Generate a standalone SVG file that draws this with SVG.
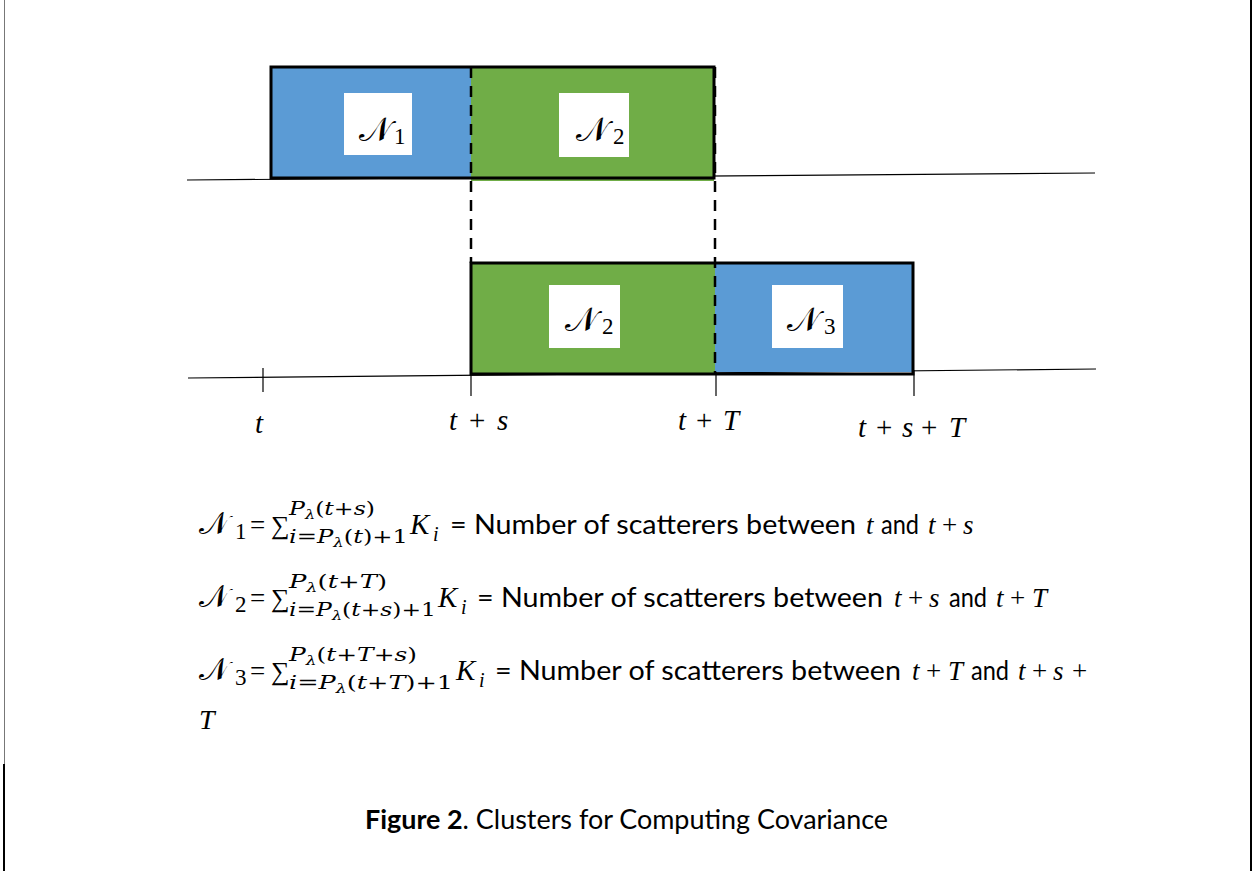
<svg xmlns="http://www.w3.org/2000/svg" width="1255" height="871" viewBox="0 0 1255 871">
<style>
.m{font-family:"Liberation Serif","DejaVu Serif",serif;font-style:italic;fill:#000}
.r{font-family:"Liberation Serif","DejaVu Serif",serif;font-style:normal;fill:#000}
.sm{font-family:"DejaVu Serif","Liberation Serif",serif;font-style:italic;fill:#000}
.sr{font-family:"DejaVu Serif","Liberation Serif",serif;font-style:normal}
.cal{font-family:"DejaVu Serif","DejaVu Sans","Noto Sans",serif;font-style:normal;fill:#000}
.p{font-family:Lato,"Liberation Sans",sans-serif;fill:#000}
.ax{stroke:#000;stroke-width:1.2;fill:none}
.tick{stroke:#000;stroke-width:1.2}
.dash{stroke:#000;stroke-width:2.5;stroke-dasharray:11,8;fill:none}
.bd{fill:none;stroke:#000;stroke-width:3}
.lbl{fill:#fff}
</style>
<rect x="0" y="0" width="1255" height="871" fill="#fff"/>
<line x1="4.5" y1="0" x2="4.5" y2="764" stroke="#777" stroke-width="1"/>
<line x1="4" y1="764" x2="4" y2="871" stroke="#000" stroke-width="2"/>
<line x1="1251" y1="0" x2="1251" y2="871" stroke="#000" stroke-width="2"/>

<g id="axes">
<line class="ax" x1="187" y1="180" x2="1095" y2="173"/>
<line class="ax" x1="188" y1="378" x2="1096" y2="369"/>
<line class="tick" x1="263" y1="368" x2="263" y2="392"/>
<line class="tick" x1="471" y1="374" x2="471" y2="396"/>
<line class="tick" x1="716" y1="372" x2="716" y2="396"/>
<line class="tick" x1="914" y1="370" x2="914" y2="396"/>
</g>

<g id="N1-top">
<rect x="271" y="67" width="200" height="111" fill="#5B9BD5"/>
<rect class="lbl" x="344" y="93" width="68" height="62"/>
<text class="cal" x="359" y="141" font-size="34">𝒩<tspan font-size="23" class="r" dy="3" dx="2">1</tspan></text>
</g>
<g id="N2-top">
<rect x="471" y="67" width="243" height="114" fill="#70AD47"/>
<rect class="lbl" x="559" y="93" width="70" height="64"/>
<text class="cal" x="576" y="141" font-size="34">𝒩<tspan font-size="23" class="r" dy="3" dx="4">2</tspan></text>
</g>
<path class="bd" d="M271,67 H714 V178 H271 Z"/>

<g id="N2-bottom">
<rect x="471" y="263" width="244" height="111" fill="#70AD47"/>
<rect class="lbl" x="549" y="285" width="71" height="63"/>
<text class="cal" x="565" y="331" font-size="34">𝒩<tspan font-size="23" class="r" dy="3" dx="4">2</tspan></text>
</g>
<g id="N3-bottom">
<rect x="715" y="263" width="198" height="109" fill="#5B9BD5"/>
<rect class="lbl" x="772" y="285" width="71" height="63"/>
<text class="cal" x="787" y="331" font-size="34">𝒩<tspan font-size="23" class="r" dy="3" dx="4">3</tspan></text>
</g>
<path class="bd" d="M471,263 H913 V374 H471 Z"/>

<g id="connectors">
<line class="dash" x1="471" y1="67" x2="471" y2="263"/>
<line class="dash" x1="715" y1="67" x2="715" y2="374"/>
</g>

<g id="tick-labels" font-size="29">
<text class="m" x="255" y="433">t</text>
<text class="m" x="449" y="430">t</text><text class="r" x="469" y="430">+</text><text class="m" x="497" y="430">s</text>
<text class="m" x="678" y="430">t</text><text class="r" x="696" y="430">+</text><text class="m" x="723" y="430">T</text>
<text class="m" x="858" y="437">t</text><text class="r" x="876" y="437">+</text><text class="m" x="902" y="437">s</text><text class="r" x="921" y="437">+</text><text class="m" x="949" y="437">T</text>
</g>

<g id="formula1">
<text class="cal" x="199" y="534" font-size="31">𝒩</text>
<text class="r" x="235" y="539" font-size="23">1</text>
<text class="r" x="250" y="534" font-size="27">=</text>
<text class="r" x="271" y="534" font-size="26">∑</text>
<text class="sm" x="289" y="515" font-size="19" textLength="86" lengthAdjust="spacingAndGlyphs">P<tspan font-size="13" dy="4">λ</tspan><tspan class="sr" dy="-4">(</tspan>t<tspan class="sr">+</tspan>s<tspan class="sr">)</tspan></text>
<text class="sm" x="289" y="543" font-size="19" textLength="119" lengthAdjust="spacingAndGlyphs">i<tspan class="sr">=</tspan>P<tspan font-size="13" dy="4">λ</tspan><tspan class="sr" dy="-4">(</tspan>t<tspan class="sr">)+1</tspan></text>
<text class="m" x="410" y="534" font-size="29">K</text>
<text class="m" x="433" y="541" font-size="20">i</text>
<text class="p" x="450" y="534" font-size="27" textLength="406" lengthAdjust="spacingAndGlyphs">= Number of scatterers between</text>
<text class="m" x="866" y="534" font-size="27">t</text>
<text class="p" x="881" y="534" font-size="27" textLength="38" lengthAdjust="spacingAndGlyphs">and</text>
<text class="m" x="928" y="534" font-size="27">t</text><text class="r" x="942" y="534" font-size="27">+</text><text class="m" x="963" y="534" font-size="27">s</text>
</g>

<g id="formula2">
<text class="cal" x="199" y="607" font-size="31">𝒩</text>
<text class="r" x="235" y="612" font-size="23">2</text>
<text class="r" x="250" y="607" font-size="27">=</text>
<text class="r" x="271" y="607" font-size="26">∑</text>
<text class="sm" x="289" y="588" font-size="19" textLength="98" lengthAdjust="spacingAndGlyphs">P<tspan font-size="13" dy="4">λ</tspan><tspan class="sr" dy="-4">(</tspan>t<tspan class="sr">+</tspan>T<tspan class="sr">)</tspan></text>
<text class="sm" x="289" y="616" font-size="19" textLength="147" lengthAdjust="spacingAndGlyphs">i<tspan class="sr">=</tspan>P<tspan font-size="13" dy="4">λ</tspan><tspan class="sr" dy="-4">(</tspan>t<tspan class="sr">+</tspan>s<tspan class="sr">)+1</tspan></text>
<text class="m" x="438" y="607" font-size="29">K</text>
<text class="m" x="461" y="614" font-size="20">i</text>
<text class="p" x="477" y="607" font-size="27" textLength="406" lengthAdjust="spacingAndGlyphs">= Number of scatterers between</text>
<text class="m" x="894" y="607" font-size="27">t</text><text class="r" x="908" y="607" font-size="27">+</text><text class="m" x="929" y="607" font-size="27">s</text>
<text class="p" x="949" y="607" font-size="27" textLength="38" lengthAdjust="spacingAndGlyphs">and</text>
<text class="m" x="996" y="607" font-size="27">t</text><text class="r" x="1010" y="607" font-size="27">+</text><text class="m" x="1032" y="607" font-size="27">T</text>
</g>

<g id="formula3">
<text class="cal" x="199" y="680" font-size="31">𝒩</text>
<text class="r" x="235" y="685" font-size="23">3</text>
<text class="r" x="250" y="680" font-size="27">=</text>
<text class="r" x="271" y="680" font-size="26">∑</text>
<text class="sm" x="289" y="661" font-size="19" textLength="128" lengthAdjust="spacingAndGlyphs">P<tspan font-size="13" dy="4">λ</tspan><tspan class="sr" dy="-4">(</tspan>t<tspan class="sr">+</tspan>T<tspan class="sr">+</tspan>s<tspan class="sr">)</tspan></text>
<text class="sm" x="289" y="689" font-size="19" textLength="164" lengthAdjust="spacingAndGlyphs">i<tspan class="sr">=</tspan>P<tspan font-size="13" dy="4">λ</tspan><tspan class="sr" dy="-4">(</tspan>t<tspan class="sr">+</tspan>T<tspan class="sr">)+1</tspan></text>
<text class="m" x="456" y="680" font-size="29">K</text>
<text class="m" x="479" y="687" font-size="20">i</text>
<text class="p" x="495" y="680" font-size="27" textLength="406" lengthAdjust="spacingAndGlyphs">= Number of scatterers between</text>
<text class="m" x="912" y="680" font-size="27">t</text><text class="r" x="926" y="680" font-size="27">+</text><text class="m" x="948" y="680" font-size="27">T</text>
<text class="p" x="971" y="680" font-size="27" textLength="38" lengthAdjust="spacingAndGlyphs">and</text>
<text class="m" x="1018" y="680" font-size="27">t</text><text class="r" x="1032" y="680" font-size="27">+</text><text class="m" x="1053" y="680" font-size="27">s</text><text class="r" x="1072" y="680" font-size="27">+</text>
<text class="m" x="199" y="729" font-size="28">T</text>
</g>

<g id="caption">
<text class="p" x="365" y="829" font-size="27" textLength="523" lengthAdjust="spacingAndGlyphs"><tspan font-weight="bold">Figure 2</tspan>. Clusters for Computing Covariance</text>
</g>
</svg>
